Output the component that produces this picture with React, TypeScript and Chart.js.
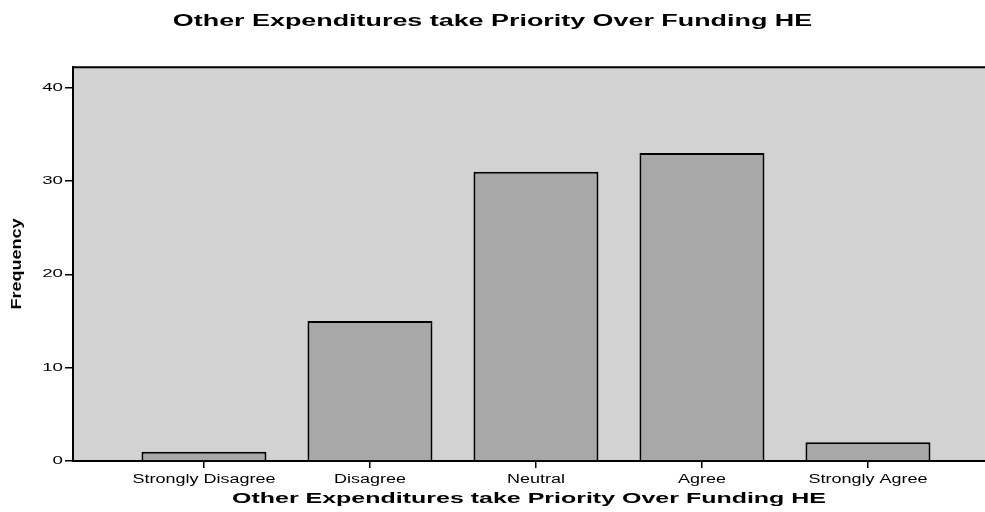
import React, { useEffect, useRef } from 'react';
import { Chart, registerables } from 'chart.js';

Chart.register(...registerables);

const CATEGORIES = ['Strongly Disagree', 'Disagree', 'Neutral', 'Agree', 'Strongly Agree'];
const FREQUENCY = [1, 15, 31, 33, 2];
const Y_TICKS = [0, 10, 20, 30, 40];
const CHART_TITLE = 'Other Expenditures take Priority Over Funding HE';
const X_TITLE = 'Other Expenditures take Priority Over Funding HE';
const Y_TITLE = 'Frequency';

const FONT = "'Liberation Sans', Arial, Helvetica, sans-serif";
const PLOT_BG = '#d2d2d2';
const BAR_FILL = '#a8a8a8';
const INK = '#000000';

// Draw the text of one chart element horizontally widened, as the wide font of the original.
function withStretch(ctx: any, sx: number, fn: () => void) {
  const orig = Object.getPrototypeOf(ctx).fillText;
  ctx.fillText = function (text: string, x: number, y: number, maxWidth?: number) {
    this.save();
    this.translate(x, y);
    this.scale(sx, 1);
    if (maxWidth === undefined) orig.call(this, text, 0, 0);
    else orig.call(this, text, 0, 0, maxWidth / sx);
    this.restore();
  };
  try {
    fn();
  } finally {
    delete ctx.fillText;
  }
}

const stretchPlugin = {
  id: 'stretchText',
  beforeDraw(chart: any) {
    if (chart.$stretched) return;
    chart.$stretched = true;
    const ctx = chart.ctx;
    const wrap = (obj: any, name: string, sx: number) => {
      if (!obj || typeof obj[name] !== 'function') return;
      const orig = obj[name];
      obj[name] = function (...args: any[]) {
        withStretch(ctx, sx, () => orig.apply(this, args));
      };
    };
    wrap(chart.titleBlock, 'draw', 1.68);
    wrap(chart.scales.x, 'drawLabels', 1.5);
    wrap(chart.scales.x, 'drawTitle', 1.665);
    wrap(chart.scales.y, 'drawLabels', 1.7);
    wrap(chart.scales.y, 'drawTitle', 1.2);
  },
};

const framePlugin = {
  id: 'plotFrame',
  beforeDraw(chart: any) {
    const { ctx, chartArea: a } = chart;
    ctx.save();
    ctx.fillStyle = PLOT_BG;
    ctx.fillRect(a.left, a.top, a.right - a.left, a.bottom - a.top);
    ctx.strokeStyle = INK;
    ctx.lineWidth = 2;
    ctx.beginPath();
    ctx.moveTo(a.left, a.top);
    ctx.lineTo(a.right, a.top);
    ctx.stroke();
    ctx.restore();
  },
};

export default function App() {
  const ref = useRef<HTMLCanvasElement | null>(null);

  useEffect(() => {
    if (!ref.current) return;
    const chart = new Chart(ref.current, {
      type: 'bar',
      data: {
        datasets: [
          {
            data: CATEGORIES.map((c, i) => ({ x: i, y: FREQUENCY[i] })) as any,
            backgroundColor: BAR_FILL,
            borderColor: INK,
            borderWidth: 2,
            barPercentage: 0.753,
            categoryPercentage: 1,
          },
        ],
      },
      options: {
        responsive: false,
        animation: false,
        devicePixelRatio: 1,
        layout: { padding: 0 },
        plugins: {
          legend: { display: false },
          tooltip: { enabled: false },
          title: {
            display: true,
            text: CHART_TITLE,
            color: INK,
            font: { family: FONT, size: 16, weight: 'bold' },
            padding: { top: 12, bottom: 36 },
          },
        },
        scales: {
          x: {
            type: 'linear',
            min: -0.789,
            max: 4.705,
            offset: false,
            afterBuildTicks: (s: any) => {
              s.ticks = CATEGORIES.map((_, i) => ({ value: i }));
            },
            afterFit: (s: any) => {
              s.height = 51;
            },
            grid: {
              display: true,
              drawOnChartArea: false,
              drawTicks: true,
              tickLength: 7,
              color: INK,
              lineWidth: 1.5,
              offset: false,
            },
            border: { display: true, color: INK, width: 2 },
            ticks: {
              autoSkip: false,
              maxRotation: 0,
              minRotation: 0,
              padding: 4,
              color: INK,
              font: { family: FONT, size: 12 },
              callback: (v: any) => CATEGORIES[v] ?? '',
            },
            title: {
              display: true,
              text: X_TITLE,
              color: INK,
              font: { family: FONT, size: 15, weight: 'bold' },
              padding: { top: 0, bottom: 4 },
            },
          },
          y: {
            type: 'linear',
            min: 0,
            max: 42.2,
            afterBuildTicks: (s: any) => {
              s.ticks = Y_TICKS.map((v) => ({ value: v }));
            },
            afterFit: (s: any) => {
              s.width = 73;
            },
            grid: {
              drawOnChartArea: false,
              drawTicks: true,
              tickLength: 8,
              color: INK,
              lineWidth: 1.5,
            },
            border: { display: true, color: INK, width: 2 },
            ticks: {
              padding: 2,
              color: INK,
              font: { family: FONT, size: 11 },
            },
            title: {
              display: true,
              text: Y_TITLE,
              color: INK,
              font: { family: FONT, size: 15, weight: 'bold' },
              padding: { top: 8, bottom: 0 },
            },
          },
        },
      } as any,
      plugins: [framePlugin, stretchPlugin],
    });
    return () => chart.destroy();
  }, []);

  return (
    <div style={{ position: 'absolute', left: 0, top: 0, width: 985, height: 512, background: '#fff' }}>
      <canvas ref={ref} width={985} height={512} style={{ display: 'block' }} />
    </div>
  );
}
